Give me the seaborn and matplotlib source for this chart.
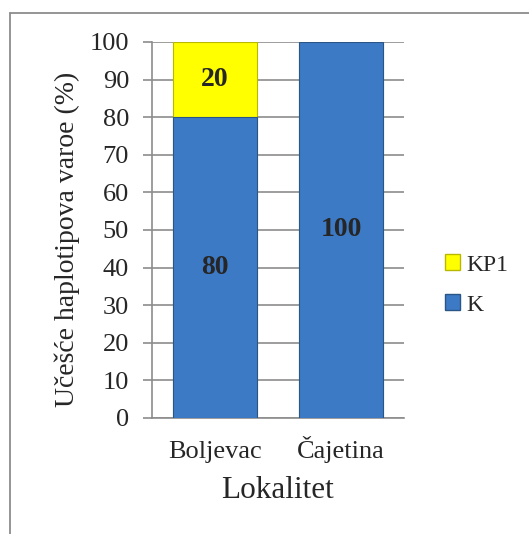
import matplotlib
matplotlib.use("Agg")
import matplotlib.pyplot as plt
import seaborn as sns
import pandas as pd
from matplotlib.patches import Patch
from matplotlib.lines import Line2D

categories = ["Boljevac", "Čajetina"]
k_values = [80, 100]
kp1_values = [20, 0]
series_names = ["KP1", "K"]

sns.set_style("white")
plt.rcParams['font.family'] = ['Liberation Serif', 'DejaVu Serif']

blue = "#3D7AC6"
yellow = "#FFFF00"
gray = "#8C8C8C"

df = pd.DataFrame({"Lokalitet": categories, "K": k_values, "KP1": kp1_values})
df["total"] = df["K"] + df["KP1"]

fig = plt.figure(figsize=(5.29, 5.34), dpi=100)
ax = fig.add_axes([152/529, 1-418/534, 252/529, 376/534])

sns.barplot(data=df, x="Lokalitet", y="total", color=yellow, width=0.667,
            edgecolor="#B8B800", linewidth=0.8, saturation=1, ax=ax, zorder=3)
sns.barplot(data=df, x="Lokalitet", y="K", color=blue, width=0.667,
            edgecolor="#2A5587", linewidth=0.8, saturation=1, ax=ax, zorder=3)

ax.set_ylim(0, 100)
ax.set_xlim(-0.5, 1.5)
ax.set_yticks(range(0, 101, 10))
ax.yaxis.grid(True, color=gray, linewidth=1.2, zorder=0)
ax.set_axisbelow(True)
for s in ["top", "right"]:
    ax.spines[s].set_visible(False)
for s in ["left", "bottom"]:
    ax.spines[s].set_color(gray)
    ax.spines[s].set_linewidth(1.2)

ax.tick_params(axis="y", labelsize=19, length=6.5, width=1.2, color=gray,
               direction="out", left=True, pad=10)
ax.set_xticks([0, 1])
ax.set_xticklabels(categories, fontsize=19, va="baseline")
ax.tick_params(axis="x", length=0, pad=29)
ax.set_xticks([-0.5, 0.5, 1.5], minor=True)
ax.tick_params(axis="x", which="minor", length=5, width=1.2, color=gray, direction="out")

ax.set_ylabel("Učešće haplotipova varoe (%)", fontsize=20)
ax.yaxis.set_label_coords((80 - 152) / 252, (418 - 239) / 376)
ax.set_xlabel("Lokalitet", fontsize=22.5, labelpad=9)

for i, (k, kp) in enumerate(zip(k_values, kp1_values)):
    ax.text(i, k / 2, str(k), ha="center", va="center", fontsize=20,
            fontweight="bold", zorder=5)
    if kp > 0:
        ax.text(i, k + kp / 2, str(kp), ha="center", va="center", fontsize=20,
                fontweight="bold", zorder=5)

handles = [Patch(facecolor=yellow, edgecolor="#B8B800", label="KP1"),
           Patch(facecolor=blue, edgecolor="#2A5587", label="K")]
fig.legend(handles=handles, loc="center left", bbox_to_anchor=(445/529, 1-285/534),
           frameon=False, fontsize=17, handlelength=0.65, handleheight=0.65,
           handletextpad=0.25, labelspacing=0.8, borderpad=0, borderaxespad=0)

# outer border: only top and left lines visible
fig.add_artist(Line2D([10/529, 10/529], [0, 1-13/534], transform=fig.transFigure,
                      color=gray, linewidth=1.3))
fig.add_artist(Line2D([10/529, 1], [1-13/534, 1-13/534], transform=fig.transFigure,
                      color=gray, linewidth=1.3))

fig.savefig("out.png", dpi=100)
